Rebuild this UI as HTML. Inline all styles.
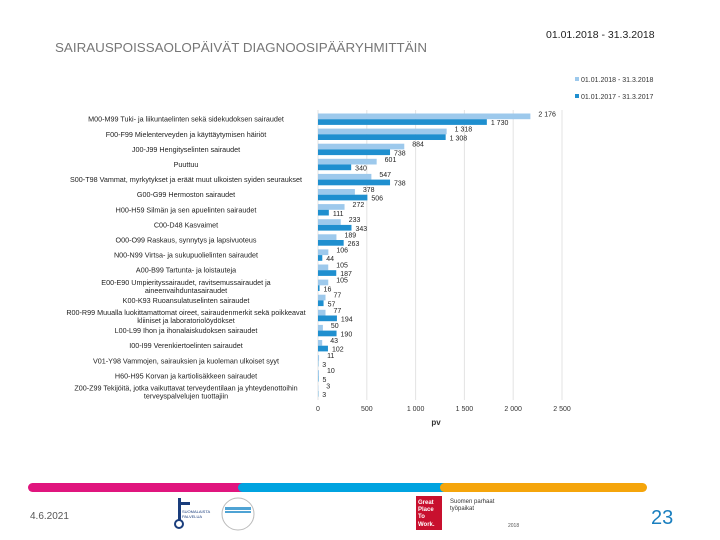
<!DOCTYPE html>
<html><head><meta charset="utf-8"><style>
body{margin:0;background:#fff;font-family:"Liberation Sans",sans-serif}
#wrap{position:relative;width:720px;height:540px;overflow:hidden}
</style></head><body>
<div id="wrap">
<svg id="chart" width="720" height="540" style="position:absolute;left:0;top:0">
<text x="546" y="38" font-size="10.5" fill="#222">01.01.2018 - 31.3.2018</text>
<text x="55" y="52" font-size="12.5" fill="#777" textLength="372" lengthAdjust="spacingAndGlyphs">SAIRAUSPOISSAOLOPÄIVÄT DIAGNOOSIPÄÄRYHMITTÄIN</text>
<g>
<rect x="575" y="77" width="4" height="4" fill="#9dc9ec"/>
<text x="581" y="82" font-size="7" fill="#333">01.01.2018 - 31.3.2018</text>
<rect x="575" y="94" width="4" height="4" fill="#1f8fcf"/>
<text x="581" y="99" font-size="7" fill="#333">01.01.2017 - 31.3.2017</text>
</g>
<g id="grid"></g><g id="bars"></g><g id="labels"></g>
<text x="436" y="425" font-size="8" font-weight="bold" fill="#333" text-anchor="middle">pv</text>
<rect x="28" y="483" width="220" height="9" rx="4.5" fill="#e0157e"/>
<rect x="238" y="483" width="210" height="9" rx="4.5" fill="#00a3e0"/>
<rect x="440" y="483" width="207" height="9" rx="4.5" fill="#f5a50b"/>
<text x="30" y="519" font-size="10" fill="#555">4.6.2021</text>
<g>
<rect x="178" y="498" width="3" height="22" fill="#1a3d7c"/><rect x="178" y="502" width="12" height="3" fill="#1a3d7c"/>
<circle cx="179" cy="524" r="4" fill="none" stroke="#1a3d7c" stroke-width="2"/>
<text x="182" y="513" font-size="4" fill="#1a3d7c">SUOMALAISTA</text><text x="182" y="518" font-size="4" fill="#1a3d7c">PALVELUA</text>
</g>
<g>
<circle cx="238" cy="514" r="16" fill="none" stroke="#bbb" stroke-width="1"/>
<rect x="225" y="507" width="26" height="3" fill="#4fa3d4"/><rect x="225" y="511" width="26" height="2" fill="#4fa3d4"/>
</g>
<g>
<rect x="416" y="496" width="26" height="34" fill="#c8102e"/>
<text x="418" y="504" font-size="6" fill="#fff" font-weight="bold">Great</text>
<text x="418" y="511" font-size="6" fill="#fff" font-weight="bold">Place</text>
<text x="418" y="518" font-size="6" fill="#fff" font-weight="bold">To</text>
<text x="418" y="526" font-size="6" fill="#fff" font-weight="bold">Work.</text>
<text x="450" y="503" font-size="6" fill="#333">Suomen parhaat</text>
<text x="450" y="510" font-size="6" fill="#333">työpaikat</text>
<text x="508" y="527" font-size="5" fill="#555">2018</text>
</g>
<text x="651" y="524" font-size="20" fill="#1a7fbf">23</text>
</svg>
<script>
const categories=[["M00-M99 Tuki- ja liikuntaelinten sekä sidekudoksen sairaudet"],["F00-F99 Mielenterveyden ja käyttäytymisen häiriöt"],["J00-J99 Hengityselinten sairaudet"],["Puuttuu"],["S00-T98 Vammat, myrkytykset ja eräät muut ulkoisten syiden seuraukset"],["G00-G99 Hermoston sairaudet"],["H00-H59 Silmän ja sen apuelinten sairaudet"],["C00-D48 Kasvaimet"],["O00-O99 Raskaus, synnytys ja lapsivuoteus"],["N00-N99 Virtsa- ja sukupuolielinten sairaudet"],["A00-B99 Tartunta- ja loistauteja"],["E00-E90 Umpierityssairaudet, ravitsemussairaudet ja","aineenvaihduntasairaudet"],["K00-K93 Ruoansulatuselinten sairaudet"],["R00-R99 Muualla luokittamattomat oireet, sairaudenmerkit sekä poikkeavat","kliiniset ja laboratoriolöydökset"],["L00-L99 Ihon ja ihonalaiskudoksen sairaudet"],["I00-I99 Verenkiertoelinten sairaudet"],["V01-Y98 Vammojen, sairauksien ja kuoleman ulkoiset syyt"],["H60-H95 Korvan ja kartiolisäkkeen sairaudet"],["Z00-Z99 Tekijöitä, jotka vaikuttavat terveydentilaan ja yhteydenottoihin","terveyspalvelujen tuottajiin"]];
const values2018=[2176,1318,884,601,547,378,272,233,189,106,105,105,77,77,50,43,11,10,3];
const values2017=[1730,1308,738,340,738,506,111,343,263,44,187,16,57,194,190,102,3,5,3];
const ticks=[0,500,1000,1500,2000,2500];
const tickLabels=["0","500","1 000","1 500","2 000","2 500"];
const NS="http://www.w3.org/2000/svg";
const x0=318,x1=562,maxV=2500,yTop=113.5,rowH=15.1,bh=5.7;
const xs=v=>x0+v/maxV*(x1-x0);
const ys=i=>yTop+i*rowH;
function mk(tag,attrs,parent){const e=document.createElementNS(NS,tag);for(const k in attrs)e.setAttribute(k,attrs[k]);parent.appendChild(e);return e;}
const grid=document.getElementById('grid'),bars=document.getElementById('bars'),labels=document.getElementById('labels');
const fmt=v=>v>=1000?String(v).replace(/(\d)(\d{3})$/,'$1 $2'):String(v);
ticks.forEach((t,i)=>{
 const l=mk('line',{x1:xs(t),x2:xs(t),y1:110,y2:400,stroke:'#e3e3e3','stroke-width':1},grid);
 
 
 const tx=mk('text',{x:xs(t),y:411,'font-size':7,fill:'#333','text-anchor':'middle'},grid);
 tx.textContent=tickLabels[i];
 
 
});
categories.forEach((c,i)=>{
 const y=ys(i);
 const b1=mk('rect',{x:x0,y:y,width:xs(values2018[i])-x0,height:bh,fill:'#9dc9ec'},bars);
 
 
 const b2=mk('rect',{x:x0,y:y+bh,width:xs(values2017[i])-x0,height:bh,fill:'#1f8fcf'},bars);
 
 
 const t1=mk('text',{x:xs(values2018[i])+8,y:y+3,'font-size':7,fill:'#222'},labels);
 t1.textContent=fmt(values2018[i]);
 
 
 const t2=mk('text',{x:xs(values2017[i])+4,y:y+bh+6,'font-size':7,fill:'#222'},labels);
 t2.textContent=fmt(values2017[i]);
 
 
 const cy=y+bh+2.5;
 const tx=mk('text',{x:186,y:c.length>1?cy-3:cy,'font-size':7.2,fill:'#222','text-anchor':'middle'},labels);
 
 
 c.forEach((line,k)=>{const s=mk('tspan',{x:186,dy:k?8:0},tx);s.textContent=line;});
});
</script>
</div>
</body></html>
